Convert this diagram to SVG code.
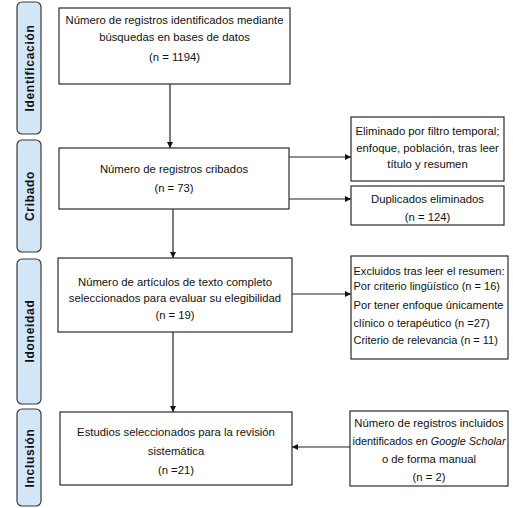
<svg xmlns="http://www.w3.org/2000/svg" width="513" height="508" viewBox="0 0 513 508">
<style>
.lane{fill:#d3e6f8;stroke:#3a3a3a;stroke-width:1.2}
.box{fill:#fff;stroke:#2a2a2a;stroke-width:1.2}
.lt{font-family:"Liberation Sans",Arial,sans-serif;font-weight:bold;font-size:12px;fill:#111;text-anchor:middle;letter-spacing:0.7px}
.t{font-family:"Liberation Sans",Arial,sans-serif;font-size:11.3px;fill:#111;text-anchor:middle}
.tl{font-family:"Liberation Sans",Arial,sans-serif;font-size:11px;fill:#111}
.c{stroke:#222;stroke-width:1.2;fill:none;marker-end:url(#ah)}
</style>
<defs>
<marker id="ah" viewBox="0 0 10 10" refX="10" refY="5" markerWidth="6" markerHeight="6" markerUnits="userSpaceOnUse" orient="auto">
<path d="M0,0 L10,5 L0,10 z" fill="#111"/>
</marker>
</defs>
<rect width="513" height="508" fill="#fff"/>
<g id="lane-identificacion"><rect class="lane" x="17" y="2" width="24" height="132" rx="5"/><text class="lt" transform="translate(33.5,68) rotate(-90)">Identificación</text></g>
<g id="lane-cribado"><rect class="lane" x="17" y="140" width="24" height="112" rx="5"/><text class="lt" transform="translate(33.5,196) rotate(-90)">Cribado</text></g>
<g id="lane-idoneidad"><rect class="lane" x="17" y="259" width="24" height="145" rx="5"/><text class="lt" transform="translate(33.5,331) rotate(-90)">Idoneidad</text></g>
<g id="lane-inclusion"><rect class="lane" x="17" y="409" width="24" height="97" rx="5"/><text class="lt" transform="translate(33.5,458) rotate(-90)">Inclusión</text></g>
<g id="connectors">
<line class="c" x1="170" y1="84" x2="170" y2="148"/>
<line class="c" x1="173" y1="209" x2="173" y2="258"/>
<line class="c" x1="173" y1="332" x2="173" y2="412"/>
<line class="c" x1="289" y1="157" x2="351" y2="157"/>
<line class="c" x1="289" y1="199" x2="351" y2="199"/>
<line class="c" x1="292" y1="294" x2="351" y2="294"/>
<line class="c" x1="350" y1="447" x2="292" y2="447"/>
</g>
<g id="n1"><rect class="box" x="59" y="8" width="231" height="76"/>
<text class="t" x="174.5" y="24">Número de registros identificados mediante</text>
<text class="t" x="174.5" y="41">búsquedas en bases de datos</text>
<text class="t" x="174.5" y="61">(n = 1194)</text></g>
<g id="n2"><rect class="box" x="59" y="148" width="230" height="61"/>
<text class="t" x="174" y="173">Número de registros cribados</text>
<text class="t" x="174" y="192">(n = 73)</text></g>
<g id="n3"><rect class="box" x="58" y="258" width="234" height="74"/>
<text class="t" x="175" y="286">Número de artículos de texto completo</text>
<text class="t" x="175" y="302">seleccionados para evaluar su elegibilidad</text>
<text class="t" x="175" y="319">(n = 19)</text></g>
<g id="n4"><rect class="box" x="60" y="412" width="232" height="73"/>
<text class="t" x="176" y="436">Estudios seleccionados para la revisión</text>
<text class="t" x="176" y="455">sistemática</text>
<text class="t" x="176" y="474">(n =21)</text></g>
<g id="n5"><rect class="box" x="351" y="117" width="153" height="64"/>
<text class="t" x="427.5" y="135" textLength="144" lengthAdjust="spacingAndGlyphs">Eliminado por filtro temporal;</text>
<text class="t" x="427.5" y="152">enfoque, población, tras leer</text>
<text class="t" x="427.5" y="168">título y resumen</text></g>
<g id="n6"><rect class="box" x="351" y="186" width="153" height="39"/>
<text class="t" x="427.5" y="203">Duplicados eliminados</text>
<text class="t" x="427.5" y="221">(n = 124)</text></g>
<g id="n7"><rect class="box" x="351" y="256" width="157" height="103"/>
<text class="tl" x="353.5" y="275" textLength="151" lengthAdjust="spacingAndGlyphs">Excluidos tras leer el resumen:</text>
<text class="tl" x="353.5" y="290">Por criterio lingüístico (n = 16)</text>
<text class="tl" x="353.5" y="309" textLength="150" lengthAdjust="spacingAndGlyphs">Por tener enfoque únicamente</text>
<text class="tl" x="353.5" y="327">clínico o terapéutico (n =27)</text>
<text class="tl" x="353.5" y="344">Criterio de relevancia (n = 11)</text></g>
<g id="n8"><rect class="box" x="350" y="411" width="158" height="75"/>
<text class="t" x="429" y="427">Número de registros incluidos</text>
<text class="t" x="429" y="445" textLength="153" lengthAdjust="spacingAndGlyphs">identificados en <tspan font-style="italic">Google Scholar</tspan></text>
<text class="t" x="429" y="463">o de forma manual</text>
<text class="t" x="429" y="481">(n = 2)</text></g>
</svg>
